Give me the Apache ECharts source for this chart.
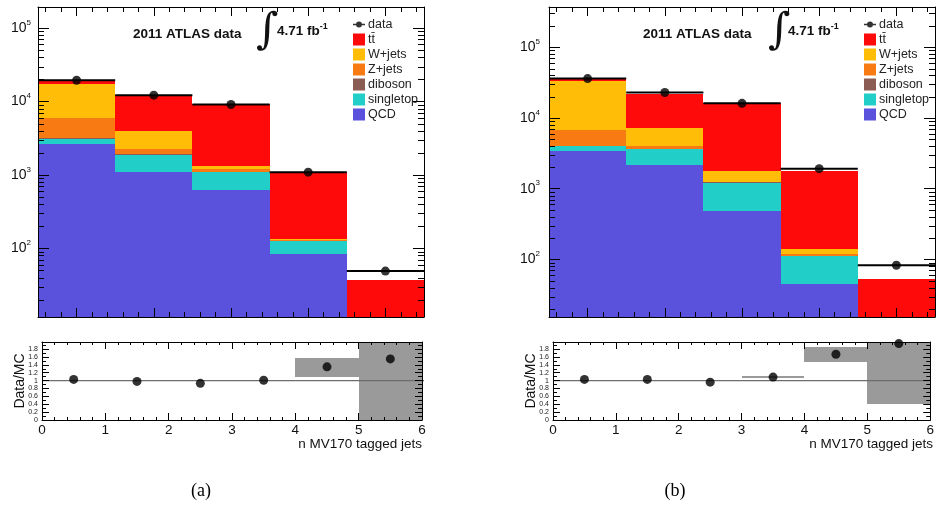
<!DOCTYPE html>
<html><head><meta charset="utf-8">
<script src="https://cdn.jsdelivr.net/npm/echarts@6/dist/echarts.min.js"></script>
<style>html,body{margin:0;padding:0;background:#fff;}#c{width:937px;height:508px;}</style>
</head><body><div id="c"></div>
<script>
// ================= DATA =================
const topBins = [0, 1, 2, 3, 4];          // top-panel bin centres
const ratioBins = [0, 1, 2, 3, 4, 5];     // ratio-panel bin lower edges
const ratioTicks = [0, 1, 2, 3, 4, 5, 6];

// panel (a)
const a_QCD       = [2670, 1090, 620, 83, 4];
const a_singletop = [460, 790, 470, 43, 2];
const a_diboson   = [30, 20, 10, 1, 0];
const a_Zjets     = [2740, 370, 120, 3, 0];
const a_Wjets     = [11700, 1690, 100, 6, 0.5];
const a_ttbar     = [1400, 8340, 7980, 944, 31];
const a_data      = [19500, 12200, 9100, 1090, 49];
const a_ratio     = [1.03, 0.98, 0.93, 1.01, 1.35, 1.55];
const a_bandLo    = [0.99, 0.99, 0.985, 0.985, 1.09, 0];
const a_bandHi    = [1.01, 1.01, 1.015, 1.015, 1.58, 2.5];

// panel (b)
const b_QCD       = [3400, 2140, 490, 45, 6];
const b_singletop = [640, 1470, 730, 66, 3];
const b_diboson   = [30, 30, 10, 1, 0];
const b_Zjets     = [2680, 360, 30, 8, 0];
const b_Wjets     = [26750, 3250, 500, 23, 0.5];
const b_ttbar     = [1500, 14750, 14740, 1617, 43];
const b_data      = [36000, 22900, 16100, 1920, 83];
const b_ratio     = [1.03, 1.03, 0.96, 1.09, 1.67, 1.94];
const b_bandLo    = [0.99, 0.99, 0.985, 1.075, 1.47, 0.41];
const b_bandHi    = [1.01, 1.01, 1.015, 1.11, 1.86, 2.5];

const legendNames = ['data', 'tt\u0304', 'W+jets', 'Z+jets', 'diboson', 'singletop', 'QCD'];
const stackOrder  = ['QCD', 'singletop', 'diboson', 'Z+jets', 'W+jets', 'tt\u0304'];
const compColors  = {'tt\u0304':'#ff0a0a','W+jets':'#ffbd08','Z+jets':'#f77a12','diboson':'#8a5c54','singletop':'#22cfc8','QCD':'#5a52dc'};

// ================= CHART =================
const FONT = 'Liberation Sans';
const chart = echarts.init(document.getElementById('c'));

const panels = [
  { grid:{left:38, top:7, width:386, height:310}, rgrid:{left:42, top:342, width:380, height:78},
    ymin:11.6, ymax:1.94e5, lineEnd:6.42, labelMargin:7,
    comps:{'QCD':a_QCD,'singletop':a_singletop,'diboson':a_diboson,'Z+jets':a_Zjets,'W+jets':a_Wjets,'tt\u0304':a_ttbar},
    data:a_data, ratio:a_ratio, lo:a_bandLo, hi:a_bandHi,
    title:{x:133, ix:266, fx:277}, legend:{left:348}, xtitle:422, ylab:20, cap:{x:201,t:'(a)'} },
  { grid:{left:549, top:7, width:386, height:310}, rgrid:{left:553, top:342, width:380, height:78},
    ymin:15.4, ymax:3.7e5, lineEnd:6, labelMargin:9,
    comps:{'QCD':b_QCD,'singletop':b_singletop,'diboson':b_diboson,'Z+jets':b_Zjets,'W+jets':b_Wjets,'tt\u0304':b_ttbar},
    data:b_data, ratio:b_ratio, lo:b_bandLo, hi:b_bandHi,
    title:{x:643, ix:778, fx:788}, legend:{left:859}, xtitle:933, ylab:531, cap:{x:675,t:'(b)'} }
];

const grids = [], xAxes = [], yAxes = [], series = [], legends = [], graphics = [];

function rectItem(x0, x1, lo, hi, params, api, fill) {
  const cs = params.coordSys;
  const xa = Math.round(api.coord([x0, 1])[0]), xb = Math.round(api.coord([x1, 1])[0]);
  const yt = api.coord([x0, hi])[1];
  const yb = lo > 0 ? api.coord([x0, lo])[1] : cs.y + cs.height;
  const top = Math.round(Math.max(Math.min(yt, yb), cs.y)), bot = Math.round(Math.min(Math.max(yt, yb), cs.y + cs.height));
  if (!(bot > top)) return null;
  return { type:'rect', shape:{x:xa, y:top, width:xb - xa, height:bot - top}, style:{fill:fill} };
}

const AL = {show:true, onZero:false, lineStyle:{color:'#000', width:1}};

panels.forEach((P, p) => {
  const gTop = grids.length;
  grids.push(Object.assign({containLabel:false}, P.grid));
  grids.push(Object.assign({containLabel:false}, P.rgrid));
  const gR = gTop + 1;
  // top panel axes
  [ 'bottom', 'top' ].forEach(pos => xAxes.push({gridIndex:gTop, type:'value', min:-0.5, max:4.5, position:pos, z:5,
    axisLine:AL, axisTick:{show:true, inside:true, length:9, lineStyle:{color:'#000'}},
    minorTick:{show:true, splitNumber:5, length:5, lineStyle:{color:'#000'}}, axisLabel:{show:false}, splitLine:{show:false}}));
  const logLabel = v => { const e = Math.log10(v), r = Math.round(e); return Math.abs(e - r) > 1e-6 ? '' : '{b|10}{s|' + r + '}'; };
  yAxes.push({gridIndex:gTop, type:'log', logBase:10, min:P.ymin, max:P.ymax, position:'left', z:5,
    axisLine:AL, axisTick:{show:true, inside:true, length:11, lineStyle:{color:'#000'}},
    splitLine:{show:false},
    axisLabel:{show:true, margin:P.labelMargin, formatter:logLabel, showMinLabel:false, showMaxLabel:false,
      rich:{b:{fontFamily:FONT, fontSize:14, color:'#111'}, s:{fontFamily:FONT, fontSize:8, color:'#111', padding:[0,0,11,0]}}}});
  yAxes.push({gridIndex:gTop, type:'log', logBase:10, min:P.ymin, max:P.ymax, position:'right', z:5,
    axisLine:AL, axisTick:{show:true, inside:true, length:11, lineStyle:{color:'#000'}},
    splitLine:{show:false}, axisLabel:{show:false}});
  // ratio axes
  xAxes.push({gridIndex:gR, type:'value', min:0, max:6, interval:1, position:'bottom', z:5,
    axisLine:AL, axisTick:{show:true, inside:true, length:7, lineStyle:{color:'#000'}},
    minorTick:{show:true, splitNumber:5, length:3, lineStyle:{color:'#000'}},
    axisLabel:{show:true, margin:3, fontFamily:FONT, fontSize:13.5, color:'#111'}, splitLine:{show:false}});
  xAxes.push({gridIndex:gR, type:'value', min:0, max:6, interval:1, position:'top', z:5,
    axisLine:AL, axisTick:{show:true, inside:true, length:7, lineStyle:{color:'#000'}},
    minorTick:{show:true, splitNumber:5, length:3, lineStyle:{color:'#000'}}, axisLabel:{show:false}, splitLine:{show:false}});
  yAxes.push({gridIndex:gR, type:'value', min:0, max:1.98, interval:0.2, position:'left', z:5,
    axisLine:AL, axisTick:{show:true, inside:true, length:7, lineStyle:{color:'#000'}},
    minorTick:{show:true, splitNumber:2, length:4, lineStyle:{color:'#000'}}, splitLine:{show:false},
    axisLabel:{show:true, margin:4, fontFamily:FONT, fontSize:7, color:'#222', showMaxLabel:false,
      formatter: v => (Math.abs(v - Math.round(v)) < 1e-6 ? String(Math.round(v)) : v.toFixed(1))}});
  yAxes.push({gridIndex:gR, type:'value', min:0, max:1.98, interval:0.2, position:'right', z:5,
    axisLine:AL, axisTick:{show:true, inside:true, length:7, lineStyle:{color:'#000'}},
    minorTick:{show:true, splitNumber:2, length:4, lineStyle:{color:'#000'}}, splitLine:{show:false}, axisLabel:{show:false}});

  const xT = 2 * gTop, yT = 2 * gTop, xR = 2 * gR, yR = 2 * gR;

  // stacked MC histogram
  const cum = topBins.map(() => 0);
  stackOrder.forEach(name => {
    const vals = P.comps[name];
    const d = topBins.map((x, i) => { const lo = cum[i]; cum[i] += vals[i]; return [x, lo, cum[i]]; });
    series.push({ type:'custom', name:name, xAxisIndex:xT, yAxisIndex:yT, z:2,
      itemStyle:{color:compColors[name]}, data:d,
      renderItem:(params, api) => rectItem(api.value(0) - 0.5, api.value(0) + 0.5, api.value(1), api.value(2), params, api, compColors[name]) });
  });
  // minor log ticks (axis decoration)
  const minorVals = [];
  for (let e = Math.floor(Math.log10(P.ymin)); e <= Math.ceil(Math.log10(P.ymax)); e++)
    for (let m = 2; m <= 9; m++) { const v = m * Math.pow(10, e); if (v > P.ymin && v < P.ymax) minorVals.push([0, v]); }
  series.push({ type:'custom', xAxisIndex:xT, yAxisIndex:yT, z:6, silent:true, data:minorVals,
    renderItem:(params, api) => { const cs = params.coordSys; const y = Math.round(api.coord([0, api.value(1)])[1]) + 0.5;
      return {type:'group', children:[
        {type:'line', shape:{x1:cs.x, y1:y, x2:cs.x + 6, y2:y}, style:{stroke:'#000', lineWidth:1}},
        {type:'line', shape:{x1:cs.x + cs.width - 6, y1:y, x2:cs.x + cs.width, y2:y}, style:{stroke:'#000', lineWidth:1}}]}; } });
  // data horizontal bars
  series.push({ type:'custom', xAxisIndex:xT, yAxisIndex:yT, z:7, silent:true,
    data:topBins.map((x, i) => [x, P.data[i]]),
    renderItem:(params, api) => { const a = api.coord([api.value(0) - 0.5, api.value(1)]), b = api.coord([api.value(0) + 0.5, api.value(1)]);
      return {type:'line', shape:{x1:a[0], y1:a[1], x2:b[0], y2:b[1]}, style:{stroke:'#000', lineWidth:2}}; } });
  series.push({ type:'scatter', name:'data', xAxisIndex:xT, yAxisIndex:yT, z:8, symbol:'circle', symbolSize:9,
    itemStyle:{color:'#000'}, data:topBins.map((x, i) => [x, P.data[i]]) });

  // ratio bands
  series.push({ type:'custom', xAxisIndex:xR, yAxisIndex:yR, z:2, silent:true,
    data:ratioBins.map((x, i) => [x, P.lo[i], P.hi[i]]),
    renderItem:(params, api) => rectItem(api.value(0), api.value(0) + 1, api.value(1), api.value(2), params, api, '#9a9a9a') });
  // reference line at 1
  series.push({ type:'line', xAxisIndex:xR, yAxisIndex:yR, z:3, silent:true, clip:false, symbol:'none',
    lineStyle:{color:'#6e6e6e', width:1.3}, data:[[0, 1], [P.lineEnd, 1]] });
  // ratio points
  series.push({ type:'scatter', xAxisIndex:xR, yAxisIndex:yR, z:8, clip:false, symbol:'circle', symbolSize:9,
    itemStyle:{color:'#000'}, data:ratioBins.map((x, i) => [x + 0.5, P.ratio[i]]) });

  // legend
  legends.push({ orient:'vertical', left:P.legend.left, top:13, itemWidth:12, itemHeight:12, itemGap:2,
    selectedMode:false, textStyle:{fontFamily:FONT, fontSize:12.5, lineHeight:12, color:'#222', padding:[0,0,0,-2]},
    data:legendNames.map(n => n === 'data'
      ? {name:n, icon:'path://M0,4.3H3.2V5.7H0Z M8.8,4.3H12V5.7H8.8Z M9,5A3,3 0 1,1 3,5A3,3 0 1,1 9,5Z'}
      : {name:n, icon:'rect'}) });

  // texts
  graphics.push({type:'text', left:P.title.x, top:27, style:{text:'2011 ATLAS data', fontFamily:FONT, fontWeight:'bold', fontSize:13.5, fill:'#111'}});
  graphics.push({type:'text', left:P.title.ix - 10, top:10, style:{text:'\u222B', fontFamily:'DejaVu Serif', fontSize:43, fill:'#111'}});
  graphics.push({type:'text', left:P.title.fx, top:22, style:{text:'{b|4.71 fb}{s|-1}', rich:{
    b:{fontFamily:FONT, fontWeight:'bold', fontSize:13.5, fill:'#111'}, s:{fontFamily:FONT, fontWeight:'bold', fontSize:9, fill:'#111', padding:[0,0,9,0]}}}});
  graphics.push({type:'text', x:P.xtitle, y:444, style:{text:'n MV170 tagged jets', fontFamily:FONT, fontSize:13.5, fill:'#111', align:'right', verticalAlign:'middle'}});
  graphics.push({type:'text', x:P.ylab, y:381, rotation:Math.PI / 2, style:{text:'Data/MC', fontFamily:FONT, fontSize:14, fill:'#111', align:'center', verticalAlign:'middle'}});
  graphics.push({type:'text', x:P.cap.x, y:491, style:{text:P.cap.t, fontFamily:'Liberation Serif', fontSize:18, fill:'#000', align:'center', verticalAlign:'middle'}});
});

chart.setOption({
  backgroundColor:'#fff', animation:false,
  grid:grids, xAxis:xAxes, yAxis:yAxes, series:series, legend:legends, graphic:graphics
});
</script></body></html>
